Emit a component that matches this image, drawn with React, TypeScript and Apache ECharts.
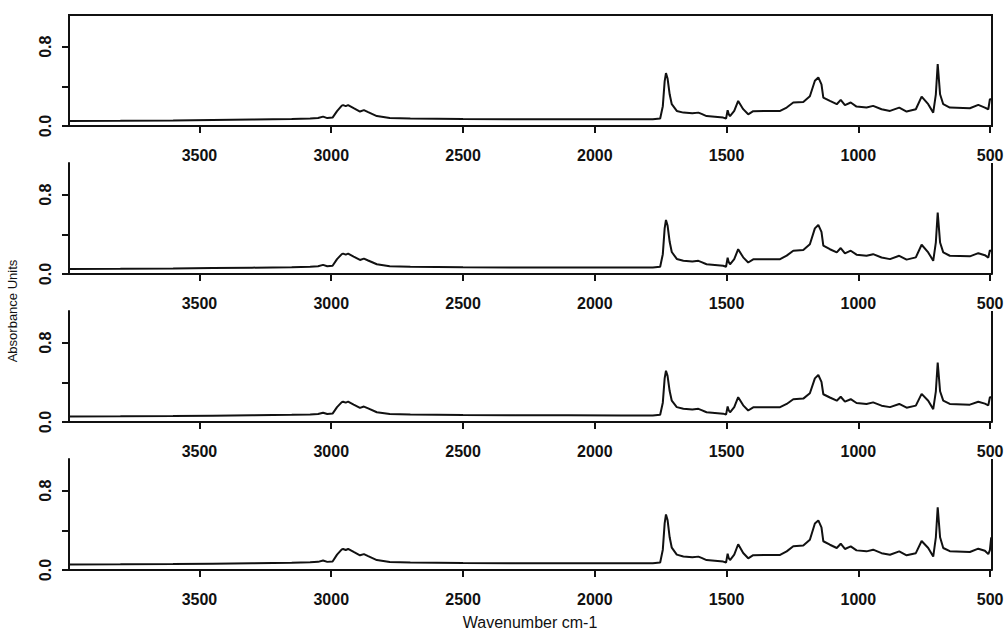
import React, { useEffect, useRef } from "react";
import * as echarts from "echarts";

// Wavenumber sample positions (cm-1), shared by the four spectra
const WAVENUMBERS = [
  3995, 3800, 3600, 3450, 3300, 3150, 3080, 3050, 3031, 3015,
  2995, 2978, 2960, 2955, 2945, 2936, 2915, 2891, 2876, 2860,
  2827, 2778, 2700, 2500, 2300, 2100, 1900, 1780, 1752, 1742,
  1735, 1730, 1724, 1716, 1708, 1689, 1664, 1630, 1607, 1595,
  1576, 1513, 1502, 1496, 1492, 1487, 1471, 1456, 1437, 1418,
  1399, 1297, 1272, 1247, 1209, 1184, 1165, 1152, 1140, 1133,
  1108, 1082, 1067, 1051, 1029, 1007, 969, 944, 912, 880,
  845, 817, 782, 760, 735, 716, 706, 699, 690, 678,
  653, 577, 545, 520, 507, 501, 496,
];

const SPECTRUM_1 = [
  0.050, 0.052, 0.055, 0.060, 0.065, 0.070, 0.075, 0.080, 0.095, 0.080,
  0.085, 0.150, 0.205, 0.210, 0.200, 0.210, 0.180, 0.146, 0.160, 0.140,
  0.100, 0.080, 0.075, 0.070, 0.068, 0.068, 0.068, 0.068, 0.075, 0.200,
  0.450, 0.534, 0.480, 0.320, 0.220, 0.152, 0.135, 0.128, 0.135, 0.122,
  0.100, 0.085, 0.075, 0.160, 0.120, 0.100, 0.152, 0.253, 0.170, 0.118,
  0.150, 0.152, 0.186, 0.237, 0.243, 0.300, 0.456, 0.490, 0.420, 0.287,
  0.253, 0.220, 0.263, 0.210, 0.237, 0.196, 0.186, 0.203, 0.169, 0.152,
  0.186, 0.146, 0.169, 0.297, 0.220, 0.135, 0.320, 0.625, 0.320, 0.220,
  0.186, 0.179, 0.213, 0.186, 0.169, 0.270, 0.270,
];

const SPECTRUM_2 = [
  0.050, 0.052, 0.055, 0.060, 0.064, 0.068, 0.073, 0.078, 0.092, 0.078,
  0.083, 0.150, 0.200, 0.205, 0.195, 0.205, 0.175, 0.142, 0.155, 0.136,
  0.098, 0.078, 0.073, 0.068, 0.066, 0.066, 0.066, 0.066, 0.073, 0.200,
  0.460, 0.545, 0.490, 0.325, 0.222, 0.152, 0.134, 0.126, 0.133, 0.120,
  0.098, 0.083, 0.073, 0.165, 0.120, 0.098, 0.150, 0.250, 0.168, 0.116,
  0.148, 0.150, 0.185, 0.235, 0.242, 0.300, 0.460, 0.495, 0.425, 0.287,
  0.250, 0.218, 0.262, 0.208, 0.235, 0.195, 0.184, 0.200, 0.167, 0.150,
  0.184, 0.145, 0.168, 0.295, 0.218, 0.133, 0.320, 0.620, 0.318, 0.218,
  0.184, 0.178, 0.210, 0.190, 0.165, 0.240, 0.230,
];

const SPECTRUM_3 = [
  0.055, 0.057, 0.060, 0.064, 0.068, 0.072, 0.076, 0.080, 0.094, 0.080,
  0.085, 0.150, 0.200, 0.205, 0.196, 0.205, 0.176, 0.143, 0.156, 0.137,
  0.098, 0.080, 0.075, 0.070, 0.068, 0.067, 0.066, 0.066, 0.073, 0.195,
  0.440, 0.517, 0.465, 0.312, 0.215, 0.150, 0.134, 0.126, 0.133, 0.120,
  0.098, 0.084, 0.074, 0.157, 0.118, 0.098, 0.150, 0.250, 0.168, 0.116,
  0.148, 0.150, 0.182, 0.230, 0.236, 0.290, 0.440, 0.474, 0.405, 0.280,
  0.247, 0.215, 0.255, 0.205, 0.230, 0.192, 0.182, 0.198, 0.165, 0.150,
  0.182, 0.144, 0.165, 0.284, 0.215, 0.130, 0.310, 0.600, 0.310, 0.215,
  0.182, 0.175, 0.205, 0.185, 0.168, 0.250, 0.250,
];

const SPECTRUM_4 = [
  0.055, 0.057, 0.060, 0.064, 0.068, 0.073, 0.078, 0.082, 0.096, 0.082,
  0.086, 0.155, 0.208, 0.212, 0.202, 0.212, 0.182, 0.148, 0.160, 0.140,
  0.100, 0.080, 0.075, 0.070, 0.068, 0.068, 0.068, 0.068, 0.075, 0.205,
  0.470, 0.560, 0.505, 0.330, 0.225, 0.155, 0.136, 0.128, 0.135, 0.122,
  0.100, 0.085, 0.075, 0.165, 0.122, 0.100, 0.155, 0.260, 0.172, 0.118,
  0.150, 0.152, 0.188, 0.240, 0.246, 0.305, 0.470, 0.500, 0.430, 0.290,
  0.255, 0.222, 0.265, 0.212, 0.238, 0.198, 0.188, 0.205, 0.170, 0.154,
  0.188, 0.148, 0.170, 0.293, 0.222, 0.135, 0.330, 0.633, 0.330, 0.222,
  0.190, 0.182, 0.215, 0.195, 0.160, 0.200, 0.330,
];

const SPECTRA = [SPECTRUM_1, SPECTRUM_2, SPECTRUM_3, SPECTRUM_4];

const X_TICKS = [500, 1000, 1500, 2000, 2500, 3000, 3500];
const Y_TICKS = [0, 0.4, 0.8];
const Y_LABELS = [0, 0.8];
const X_MIN = 493;
const X_MAX = 3995;
const Y_MIN = 0;
const Y_MAX = 1.12;

const X_TITLE = "Wavenumber cm-1";
const Y_TITLE = "Absorbance Units";

export default function App() {
  const ref = useRef<HTMLDivElement>(null);

  useEffect(() => {
    document.body.style.margin = "0";
    if (!ref.current) return;
    const chart = echarts.init(ref.current, undefined, { renderer: "svg" });
    const ink = "#111";
    const font = "Liberation Sans";
    const lineStyle = { color: ink, width: 2 };

    const grids: any[] = [];
    const xAxes: any[] = [];
    const yAxes: any[] = [];
    const series: any[] = [];

    SPECTRA.forEach((spec, i) => {
      grids.push({
        left: 69,
        right: 16,
        top: 15 + i * 148,
        height: 111,
        show: i === 0,
        borderColor: ink,
        borderWidth: 2,
        backgroundColor: "transparent",
      });
      xAxes.push({
        type: "value",
        gridIndex: i,
        inverse: true,
        min: X_MIN,
        max: X_MAX,
        axisLine: { show: true, onZero: false, lineStyle },
        axisTick: { show: true, length: 7, customValues: X_TICKS, lineStyle },
        axisLabel: {
          customValues: X_TICKS,
          margin: 21,
          fontSize: 16,
          fontWeight: "bold",
          fontFamily: font,
          color: ink,
          formatter: (v: number) => String(v),
        },
        splitLine: { show: false },
      });
      yAxes.push({
        type: "value",
        gridIndex: i,
        min: Y_MIN,
        max: Y_MAX,
        axisLine: { show: true, onZero: false, lineStyle },
        axisTick: { show: true, length: 7, customValues: Y_TICKS, lineStyle },
        axisLabel: {
          customValues: Y_LABELS,
          rotate: 90,
          margin: 16,
          fontSize: 16,
          fontWeight: "bold",
          fontFamily: font,
          color: ink,
          formatter: (v: number) => v.toFixed(1),
        },
        splitLine: { show: false },
      });
      series.push({
        type: "line",
        xAxisIndex: i,
        yAxisIndex: i,
        data: WAVENUMBERS.map((w, k) => [w, spec[k]]),
        symbol: "none",
        lineStyle: { color: ink, width: 2 },
        silent: true,
        markLine:
          i === 0
            ? undefined
            : {
                silent: true,
                symbol: ["none", "none"],
                label: { show: false },
                lineStyle: { color: ink, width: 2, type: "solid" },
                data: [{ xAxis: X_MIN }],
              },
      });
    });

    chart.setOption({
      animation: false,
      backgroundColor: "#ffffff",
      grid: grids,
      xAxis: xAxes,
      yAxis: yAxes,
      series,
      graphic: [
        {
          type: "text",
          x: 530,
          y: 622,
          style: {
            text: X_TITLE,
            font: `16px "${font}"`,
            fill: ink,
            align: "center",
            verticalAlign: "middle",
          },
        },
        {
          type: "text",
          x: 12,
          y: 311,
          rotation: Math.PI / 2,
          style: {
            text: Y_TITLE,
            font: `13px "${font}"`,
            fill: ink,
            align: "center",
            verticalAlign: "middle",
          },
        },
      ],
    });
    return () => chart.dispose();
  }, []);

  return <div ref={ref} style={{ width: 1008, height: 635 }} />;
}
